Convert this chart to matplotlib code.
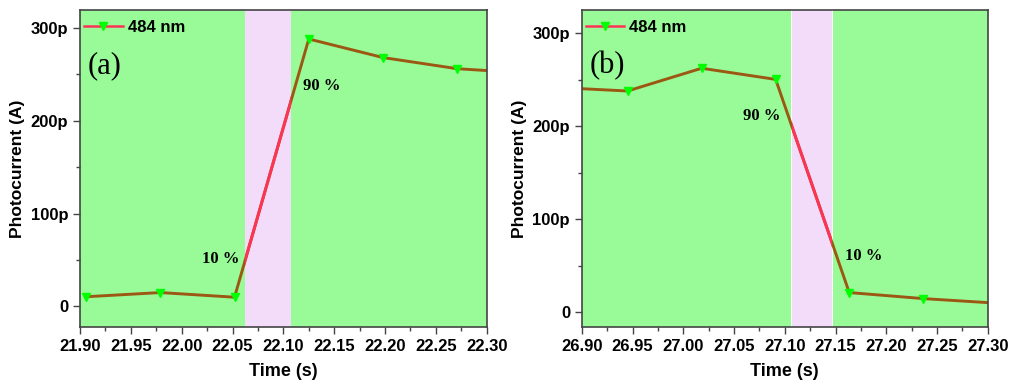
import matplotlib.pyplot as plt
from matplotlib.ticker import MultipleLocator, FuncFormatter

# --datos (corriente en pA)
t_a = [21.906, 21.979, 22.052, 22.125, 22.198, 22.271, 22.344]
i_a = [10.5, 15.0, 10.0, 288.0, 268.0, 256.0, 251.0]
t_b = [26.872, 26.945, 27.018, 27.091, 27.1635, 27.2365, 27.31]
i_b = [242.0, 238.0, 262.5, 250.5, 21.0, 14.5, 9.5]

xlim_a = (21.90, 22.30)
xlim_b = (26.90, 27.30)
ylim_a = (-22, 319)
ylim_b = (-16, 325)
pink_a = (22.062, 22.108)
pink_b = (27.1067, 27.1465)
green_b = [(26.90, 27.1057), (27.1475, 27.30)]
green_a = [(21.90, 22.062), (22.108, 22.30)]

labels_a = [('10 %', 22.038, 51), ('90 %', 22.138, 237)]
labels_b = [('90 %', 27.077, 211), ('10 %', 27.178, 60)]

fig = plt.figure(figsize=(10.12, 3.92), dpi=100)
ax_a = fig.add_axes([0.079, 0.166, 0.402, 0.808])
ax_b = fig.add_axes([0.575, 0.166, 0.401, 0.808])

bold = dict(family='Liberation Sans', weight='bold')

def pA(v, pos):
    return '0' if abs(v) < 1e-9 else '%dp' % v

for ax, t, i, xl, yl, pink, greens, labs, tag in [
        (ax_a, t_a, i_a, xlim_a, ylim_a, pink_a, green_a, labels_a, '(a)'),
        (ax_b, t_b, i_b, xlim_b, ylim_b, pink_b, green_b, labels_b, '(b)')]:
    span = ax.axvspan(pink[0], pink[1], color='#F3DCF9', zorder=0, lw=0)
    for g in greens:
        ax.axvspan(g[0], g[1], color='#98FB98', zorder=0, lw=0)
    # --linea marron sobre verde, roja dentro de la zona rosa
    ax.plot(t, i, color='#9C5812', lw=2.1, zorder=1)
    red, = ax.plot(t, i, color='#FF3355', lw=2.1, zorder=1.5)
    red.set_clip_path(span)
    ax.plot(t, i, ls='none', marker='v', ms=6, color='#00FF00', zorder=3)
    # --leyenda
    ax.plot([], [], color='#FF3355', lw=1.8, marker='v', ms=6,
            mfc='#00FF00', mec='#00FF00', label='484 nm')
    ax.legend(loc='upper left', bbox_to_anchor=(-0.006, 0.99), frameon=False,
              prop=dict(size=12, **bold), handlelength=2.3, handletextpad=0.3,
              borderaxespad=0, borderpad=0.4)
    ax.set_xlim(xl)
    ax.set_ylim(yl)
    ax.xaxis.set_major_locator(MultipleLocator(0.05))
    ax.xaxis.set_minor_locator(MultipleLocator(0.025))
    ax.yaxis.set_major_locator(MultipleLocator(100))
    ax.yaxis.set_minor_locator(MultipleLocator(50))
    ax.xaxis.set_major_formatter(FuncFormatter(lambda v, p: '%.2f' % v))
    ax.yaxis.set_major_formatter(FuncFormatter(pA))
    ax.tick_params(which='major', length=5, width=1, color='#444444', direction='out')
    ax.tick_params(which='minor', length=3, width=1, color='#444444', direction='out')
    for lab in ax.get_xticklabels() + ax.get_yticklabels():
        lab.set_fontsize(12)
        lab.set_fontfamily('Liberation Sans')
        lab.set_fontweight('bold')
    for s in ax.spines.values():
        s.set_color('#444444')
        s.set_linewidth(1.2)
        s.set_zorder(5)
    ax.set_xlabel('Time (s)', fontsize=13, labelpad=7, **bold)
    ax.set_ylabel('Photocurrent (A)', fontsize=12.5, labelpad=4, **bold)
    ax.text(0.02, 0.825, tag, transform=ax.transAxes, fontsize=22,
            family='Liberation Serif', va='center', zorder=6)
    for txt, x, y in labs:
        ax.text(x, y, txt, fontsize=12, family='Liberation Serif',
                weight='bold', ha='center', va='center', zorder=6)

plt.savefig('out.png', dpi=100)
